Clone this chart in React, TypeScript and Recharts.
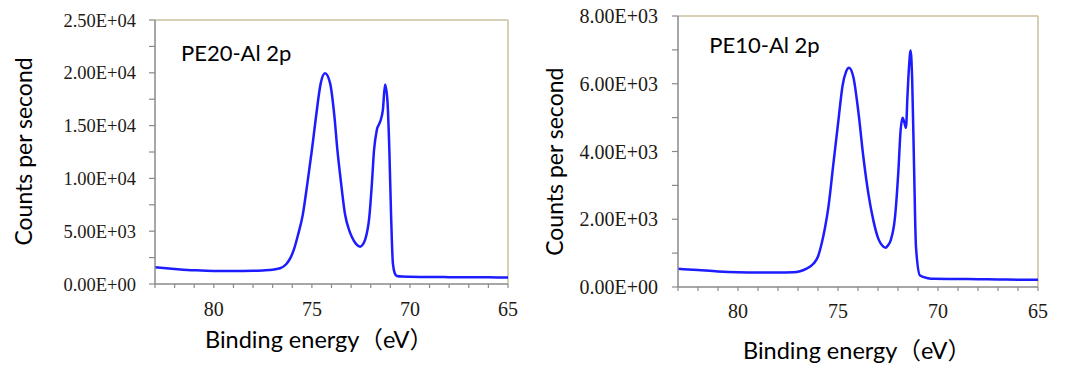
import React from 'react';
import { LineChart, Line, XAxis, YAxis, ReferenceLine } from 'recharts';

// PE20 - Al 2p (binding energy in eV, counts per second)
const pe20Energy = [83, 82, 81, 80, 79, 78, 77.5, 77, 76.8, 76.62, 76.3, 76.1, 75.91, 75.7, 75.47, 75.23, 75.0, 74.79, 74.55, 74.33, 74.07, 73.85, 73.7, 73.51, 73.31, 73.1, 72.96, 72.75, 72.54, 72.4, 72.29, 72.07, 71.94, 71.83, 71.69, 71.52, 71.38, 71.27, 71.15, 71.05, 70.96, 70.87, 70.77, 70.67, 70.4, 70, 69, 68, 67, 66, 65];
const pe20Counts = [1580, 1430, 1300, 1230, 1230, 1250, 1290, 1350, 1420, 1490, 1900, 2450, 3300, 4700, 6500, 9530, 12690, 15840, 19000, 19950, 19000, 15840, 12690, 9530, 6600, 5100, 4450, 3800, 3530, 3750, 4170, 6370, 9530, 12690, 14580, 15370, 16480, 18900, 17420, 12690, 6370, 1960, 1000, 760, 700, 680, 660, 650, 640, 630, 620];

// PE10 - Al 2p
const pe10Energy = [83, 82, 81, 80, 79, 78, 77.25, 76.9, 76.6, 76.23, 76.0, 75.82, 75.65, 75.48, 75.23, 74.98, 74.77, 74.6, 74.45, 74.23, 73.98, 73.73, 73.48, 73.23, 72.98, 72.8, 72.62, 72.5, 72.37, 72.15, 71.98, 71.87, 71.77, 71.68, 71.6, 71.53, 71.45, 71.37, 71.29, 71.2, 71.1, 70.9, 70.5, 70.23, 69, 68, 67, 66, 65];
const pe10Counts = [537, 500, 460, 437, 430, 430, 437, 467, 537, 685, 900, 1275, 1750, 2360, 3640, 4915, 5950, 6350, 6470, 6190, 5160, 3830, 2750, 1960, 1420, 1230, 1157, 1230, 1370, 2060, 3440, 4620, 4995, 4850, 4700, 5600, 6490, 6980, 6100, 3640, 1175, 340, 260, 240, 235, 230, 225, 215, 212];

const xTicks = [83, 82, 81, 80, 79, 78, 77, 76, 75, 74, 73, 72, 71, 70, 69, 68, 67, 66, 65];
const pe20YTicks = [0, 2500, 5000, 7500, 10000, 12500, 15000, 17500, 20000, 22500, 25000];
const pe10YTicks = [0, 1000, 2000, 3000, 4000, 5000, 6000, 7000, 8000];

const pe20Data = pe20Energy.map((e, i) => ({ e, c: pe20Counts[i] }));
const pe10Data = pe10Energy.map((e, i) => ({ e, c: pe10Counts[i] }));

const sci = (v: number) => {
  if (v === 0) return '0.00E+00';
  const ex = Math.floor(Math.log10(Math.abs(v)));
  const m = v / Math.pow(10, ex);
  return m.toFixed(2) + 'E' + (ex < 0 ? '-' : '+') + String(Math.abs(ex)).padStart(2, '0');
};

const AXIS = '#8a8a8a';
const BORDER = '#d6cfb6';
const BLUE = '#1c1cff';
const SANS = "Lato, 'Noto Sans CJK SC', sans-serif";
const SERIF = "'Liberation Serif', 'Times New Roman', serif";

type PanelProps = {
  data: { e: number; c: number }[];
  yTicks: number[];
  yMax: number;
  labelStep: number;
  margin: { top: number; right: number; bottom: number; left: number };
  yWidth: number;
  xHeight: number;
  yFont: number;
  yTickMargin: number;
  xTickMargin: number;
  title: string;
  titlePos: [number, number];
  xTitlePos: [number, number];
  yTitlePos: [number, number];
};

function Panel(p: PanelProps) {
  return (
    <LineChart width={540} height={378} data={p.data} margin={p.margin}>
      <XAxis
        dataKey="e"
        type="number"
        domain={[65, 83]}
        reversed
        ticks={xTicks}
        interval={0}
        tickFormatter={(v: number) => (v % 5 === 0 ? String(v) : '')}
        height={p.xHeight}
        tickSize={4}
        tickMargin={p.xTickMargin}
        axisLine={{ stroke: AXIS, strokeWidth: 1.5 }}
        tickLine={{ stroke: AXIS, strokeWidth: 1.2 }}
        tick={{ fill: '#1e1a14', fontSize: 20, fontFamily: SERIF }}
      />
      <YAxis
        type="number"
        domain={[0, p.yMax]}
        ticks={p.yTicks}
        interval={0}
        tickFormatter={(v: number) => (v % p.labelStep === 0 ? sci(v) : '')}
        width={p.yWidth}
        tickSize={6}
        tickMargin={p.yTickMargin}
        axisLine={{ stroke: AXIS, strokeWidth: 1.5 }}
        tickLine={{ stroke: AXIS, strokeWidth: 1.2 }}
        tick={{ fill: '#1e1a14', fontSize: p.yFont, fontFamily: SERIF }}
      />
      <ReferenceLine y={p.yMax} stroke={BORDER} strokeWidth={2} />
      <ReferenceLine x={65} stroke={BORDER} strokeWidth={2} />
      <Line
        dataKey="c"
        type="monotone"
        stroke={BLUE}
        strokeWidth={2.5}
        dot={false}
        isAnimationActive={false}
      />
      <text x={p.titlePos[0]} y={p.titlePos[1]} fontFamily={SANS} fontSize={22} fill="#000">
        {p.title}
      </text>
      <text x={p.xTitlePos[0]} y={p.xTitlePos[1]} fontFamily={SANS} fontSize={23.5} fill="#000" textAnchor="middle">
        Binding energy（eV）
      </text>
      <text
        transform={`translate(${p.yTitlePos[0]},${p.yTitlePos[1]}) rotate(-90)`}
        fontFamily={SANS}
        fontSize={23}
        fill="#000"
        textAnchor="middle"
      >
        Counts per second
      </text>
    </LineChart>
  );
}

export default function App() {
  return (
    <div style={{ position: 'absolute', left: 0, top: 0, width: 1080, height: 378, background: '#fff' }}>
      <div style={{ position: 'absolute', left: 0, top: 0 }}>
        <Panel
          data={pe20Data}
          yTicks={pe20YTicks}
          yMax={25000}
          labelStep={5000}
          margin={{ top: 20, right: 32, bottom: 0, left: 0 }}
          yWidth={155}
          xHeight={94}
          yFont={18.5}
          yTickMargin={13}
          xTickMargin={14}
          title="PE20-Al 2p"
          titlePos={[181, 61]}
          xTitlePos={[319, 348]}
          yTitlePos={[31.7, 151.5]}
        />
      </div>
      <div style={{ position: 'absolute', left: 540, top: 0 }}>
        <Panel
          data={pe10Data}
          yTicks={pe10YTicks}
          yMax={8000}
          labelStep={2000}
          margin={{ top: 16, right: 42, bottom: 0, left: 0 }}
          yWidth={138}
          xHeight={91}
          yFont={20}
          yTickMargin={14}
          xTickMargin={12.5}
          title="PE10-Al 2p"
          titlePos={[169.3, 52.7]}
          xTitlePos={[317, 359]}
          yTitlePos={[23, 161.7]}
        />
      </div>
    </div>
  );
}
